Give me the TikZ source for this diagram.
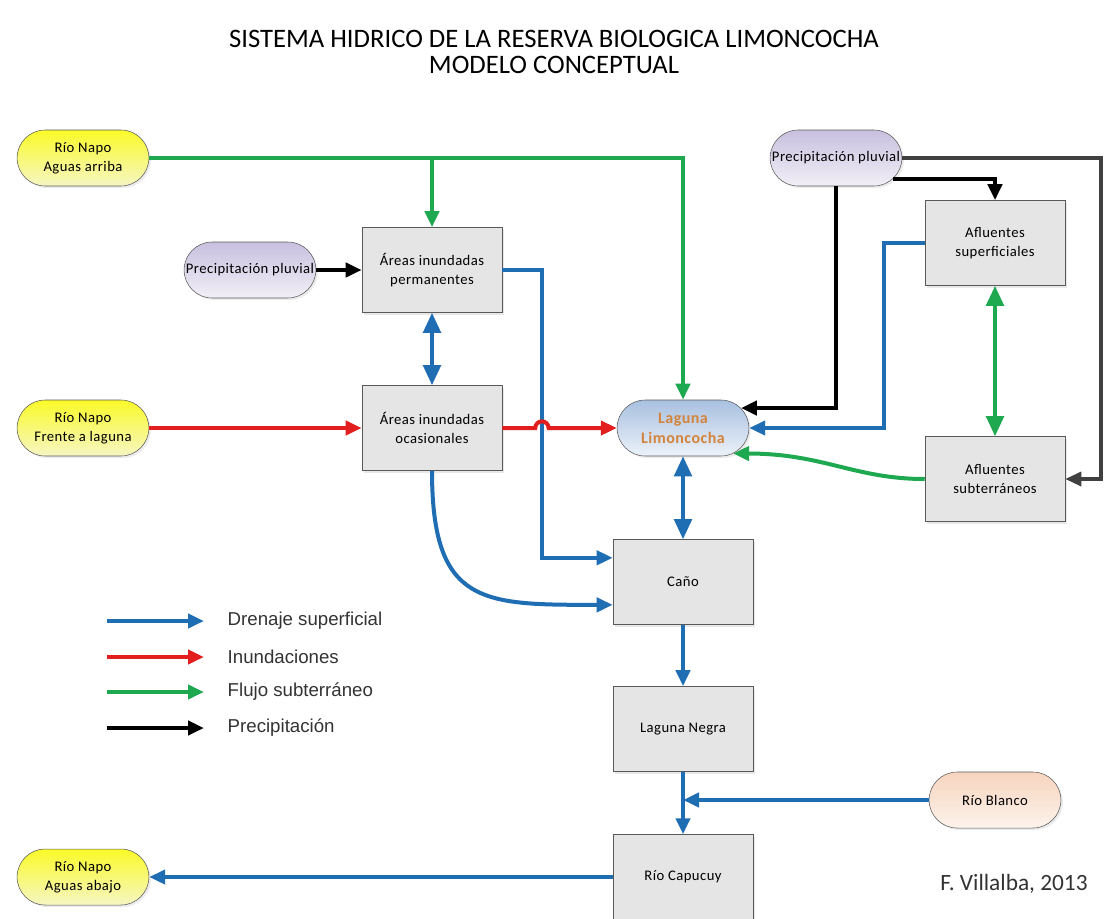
\documentclass[tikz,border=0pt]{standalone}
\usepackage{fontspec}
\setmainfont{Carlito}
\newfontfamily\nodefont[LetterSpace=3]{Carlito}
\newfontfamily\keyfont{Liberation Sans}
\usetikzlibrary{arrows.meta,shapes.misc,shadows}

\definecolor{drainblue}{RGB}{31,110,180}
\definecolor{floodred}{RGB}{226,30,30}
\definecolor{groundgreen}{RGB}{30,168,80}
\definecolor{lakeorange}{RGB}{211,131,59}

\tikzset{
	boxfont/.style={font=\nodefont\fontsize{11}{14}\selectfont},
	box/.style={boxfont, draw=black!65, fill=black!10, minimum width=105pt, minimum height=63.75pt, align=center, drop shadow={opacity=.18,shadow xshift=1.5pt,shadow yshift=-1.5pt}},
	pill/.style={boxfont, rounded rectangle, draw=black!65, minimum width=105.5pt, minimum height=42pt, align=center, drop shadow={opacity=.15,shadow xshift=1.5pt,shadow yshift=-1.5pt}},
	river/.style={pill, top color={rgb,255:red,250;green,250;blue,40}, bottom color={rgb,255:red,246;green,246;blue,196}},
	cloud/.style={pill, top color={rgb,255:red,200;green,192;blue,222}, bottom color={rgb,255:red,242;green,239;blue,247}},
	lake/.style={pill, top color={rgb,255:red,168;green,192;blue,224}, bottom color={rgb,255:red,236;green,242;blue,249}, text=lakeorange, font=\nodefont\bfseries\fontsize{12}{15}\selectfont},
	creek/.style={pill, top color={rgb,255:red,246;green,212;blue,190}, bottom color={rgb,255:red,253;green,243;blue,236}},
	line/.style={line width=3pt},
	head/.style={-{Triangle[length=12pt,width=10.5pt]}},
	twohead/.style={{Triangle[length=15pt,width=13pt]}-{Triangle[length=15pt,width=13pt]}},
	drain/.style={line, head, draw=drainblue},
	flood/.style={line, head, draw=floodred},
	ground/.style={line, head, draw=groundgreen},
	precip/.style={line, head, draw=black},
	rim/.style={line width=2.5pt, head, draw=black!75}
}

\begin{document}
\begin{tikzpicture}[x=0.75pt,y=-0.75pt]
	\fill[white] (0,0) rectangle (1105,918);
	\useasboundingbox (0,0) rectangle (1105,918);

	\node[font=\fontsize{20}{19}\selectfont, align=center] (title) at (554,52) {SISTEMA HIDRICO DE LA RESERVA BIOLOGICA LIMONCOCHA\\MODELO CONCEPTUAL};

	\node[river] (napoA) at (83,158) {Río Napo\\Aguas arriba};
	\node[river] (napoF) at (83,428) {Río Napo\\Frente a laguna};
	\node[river] (napoB) at (83,877) {Río Napo\\Aguas abajo};
	\node[cloud] (prec1) at (250,270) {Precipitación pluvial};
	\node[cloud] (prec2) at (836,158) {Precipitación pluvial};
	\node[box] (aperm) at (432,270) {Áreas inundadas\\permanentes};
	\node[box] (aocas) at (432,428) {Áreas inundadas\\ocasionales};
	\node[lake] (laguna) at (683,428) {Laguna\\Limoncocha};
	\node[box] (afsup) at (995,243) {Afluentes\\superficiales};
	\node[box] (afsub) at (995,479) {Afluentes\\subterráneos};
	\node[box] (cano) at (683,582) {Caño};
	\node[box] (lneg) at (683,729) {Laguna Negra};
	\node[creek] (blanco) at (995,800) {Río Blanco};
	\node[box] (capu) at (683,877) {Río Capucuy};

	\coordinate (edge) at (1101,158);

	\draw[ground] (napoA.east) -| (laguna.north);
	\draw[ground] (napoA.east -| aperm.north) -- (aperm.north);
	\draw[precip] (prec1.east) -- (aperm.west);
	\draw[line, twohead, draw=drainblue] (aperm.south) -- (aocas.north);
	\draw[drain] (aperm.east) -- ++(40,0) |- (cano.161);
	\draw[flood] (napoF.east) -- (aocas.west);
	\draw[flood] (aocas.east) -- ++(33,0) arc[start angle=180,end angle=0,radius=5pt] -- (laguna.west);
	\draw[drain] (aocas.south) .. controls +(0,135) and +(-130,0) .. (cano.198);

	\draw[precip] (prec2.south) |- (laguna.19);
	\draw[precip] (prec2.-20) -| (afsup.north);
	\draw[rim] (prec2.east) -- (edge) |- (afsub.east);
	\draw[drain] (afsup.west) -- ++(-41,0) |- (laguna.east);
	\draw[line, twohead, draw=groundgreen] (afsup.south) -- (afsub.north);
	\draw[ground] (afsub.west) .. controls +(-70,0) and +(90,0) .. (laguna.-27);

	\draw[line, twohead, draw=drainblue] (laguna.south) -- (cano.north);
	\draw[drain] (cano.south) -- (lneg.north);
	\draw[drain] (lneg.south) -- (capu.north);
	\draw[drain] (blanco.west) -- (blanco.west -| lneg.south);
	\draw[drain] (capu.west) -- (napoB.east);

	\foreach \y/\kind/\txt [count=\i] in {621/drain/Drenaje superficial, 657/flood/Inundaciones, 692/ground/Flujo subterráneo, 728/precip/Precipitación}{
		\coordinate (key\i) at (107,\y);
		\draw[\kind] (key\i) -- ++(97,0);
		\node[anchor=west, font=\keyfont\fontsize{14}{15}\selectfont, text=black!80] (keytext\i) at (223,\y) {\txt};
	}

	\node[font=\fontsize{17.5}{19}\selectfont, text=black!80] (credit) at (1014,884) {F. Villalba, 2013};
\end{tikzpicture}
\end{document}
